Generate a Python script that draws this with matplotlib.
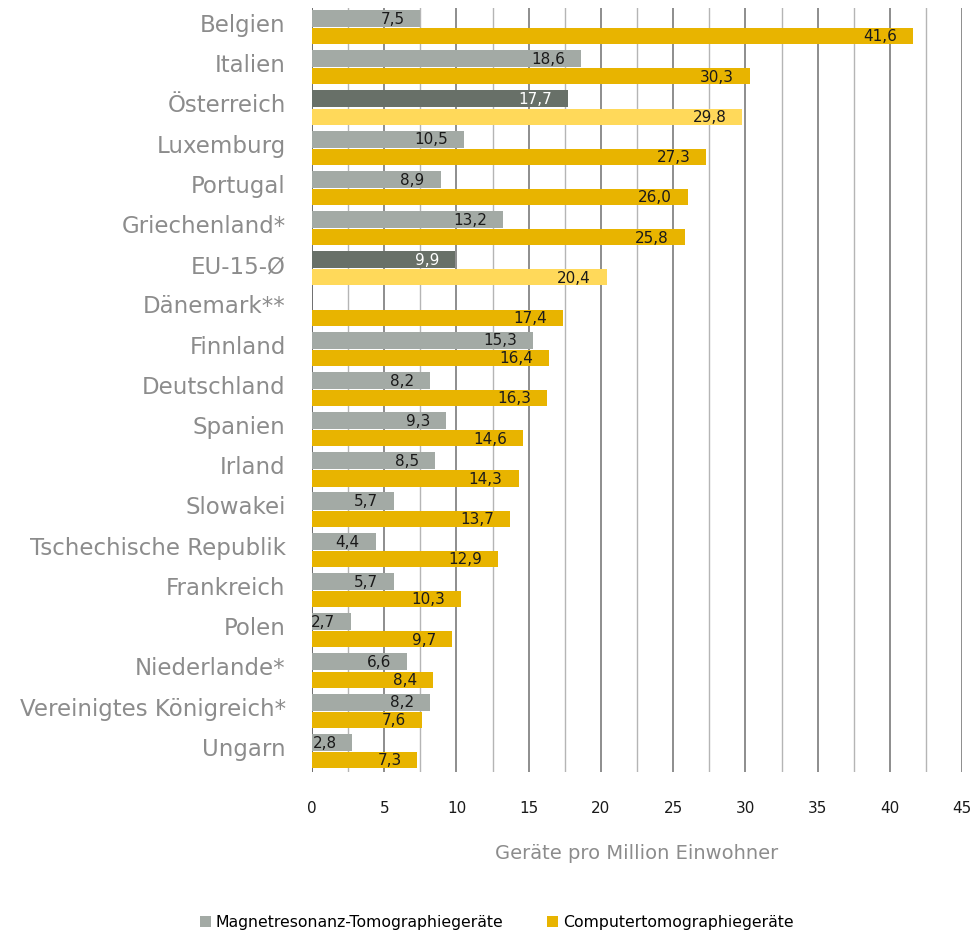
import matplotlib
matplotlib.use("Agg")
import matplotlib.pyplot as plt
from matplotlib.patches import Patch

# Geräteausstattung je Land, sortiert nach CT-Dichte
countries = ["Belgien", "Italien", "Österreich", "Luxemburg", "Portugal",
             "Griechenland*", "EU-15-Ø", "Dänemark**", "Finnland", "Deutschland",
             "Spanien", "Irland", "Slowakei", "Tschechische Republik",
             "Frankreich", "Polen", "Niederlande*", "Vereinigtes Königreich*",
             "Ungarn"]
mrt = [7.5, 18.6, 17.7, 10.5, 8.9, 13.2, 9.9, None, 15.3, 8.2,
       9.3, 8.5, 5.7, 4.4, 5.7, 2.7, 6.6, 8.2, 2.8]
ct = [41.6, 30.3, 29.8, 27.3, 26.0, 25.8, 20.4, 17.4, 16.4, 16.3,
      14.6, 14.3, 13.7, 12.9, 10.3, 9.7, 8.4, 7.6, 7.3]
highlight = ["Österreich", "EU-15-Ø"]
x_ticks = [0, 5, 10, 15, 20, 25, 30, 35, 40, 45]

col_mrt = "#a3aaa5"
col_ct = "#e8b400"
col_mrt_hl = "#687068"
col_ct_hl = "#ffd95a"
label_grey = "#8c8c8c"

fig = plt.figure(figsize=(9.8, 9.34), dpi=100)
ax = fig.add_axes([0.3184, 0.1734, 0.6633, 0.818])

ax.set_xlim(0, 45)
ax.set_ylim(len(countries), 0)

# Gitterlinien: volle Fünfer dunkler, Zwischenlinien heller
for v in x_ticks:
    ax.axvline(v, color="#7a7a7a" if v else "#555555", lw=1.2, zorder=0)
for v in [2.5 + 5 * k for k in range(9)]:
    ax.axvline(v, color="#b5b5b5", lw=1.0, zorder=0)


def fmt(v):
    return f"{v:.1f}".replace(".", ",")


for i, name in enumerate(countries):
    hl = name in highlight
    if mrt[i] is not None:
        ax.barh(i + 0.26, mrt[i], height=0.425, left=0,
                color=col_mrt_hl if hl else col_mrt, zorder=2)
        ax.annotate(fmt(mrt[i]), (mrt[i], i + 0.28), xytext=(-11.5, 0),
                    textcoords="offset points", ha="right", va="center",
                    fontsize=11, color="white" if hl else "#1a1a1a", zorder=3)
    ax.barh(i + 0.70, ct[i], height=0.40, left=0,
            color=col_ct_hl if hl else col_ct, zorder=2)
    ax.annotate(fmt(ct[i]), (ct[i], i + 0.72), xytext=(-11.5, 0),
                textcoords="offset points", ha="right", va="center",
                fontsize=11, color="#1a1a1a", zorder=3)

ax.set_yticks([i + 0.37 for i in range(len(countries))])
ax.set_yticklabels(countries, fontsize=16.5, color=label_grey)
ax.set_xticks(x_ticks)
ax.set_xticklabels([str(t) for t in x_ticks], fontsize=11, color="#1a1a1a")
ax.tick_params(axis="y", length=0, pad=19)
ax.tick_params(axis="x", length=0, pad=21)

for s in ax.spines.values():
    s.set_visible(False)

ax.set_xlabel("Geräte pro Million Einwohner", fontsize=14, color=label_grey,
              labelpad=20)

handles = [Patch(facecolor=col_mrt, label="Magnetresonanz-Tomographiegeräte"),
           Patch(facecolor=col_ct, label="Computertomographiegeräte")]
fig.legend(handles=handles, loc="center", bbox_to_anchor=(0.507, 0.012),
           ncol=2, frameon=False, fontsize=11.3, handlelength=0.7,
           handleheight=0.7, handletextpad=0.3, columnspacing=2.8)

fig.savefig("out.png", dpi=100, facecolor="white")
